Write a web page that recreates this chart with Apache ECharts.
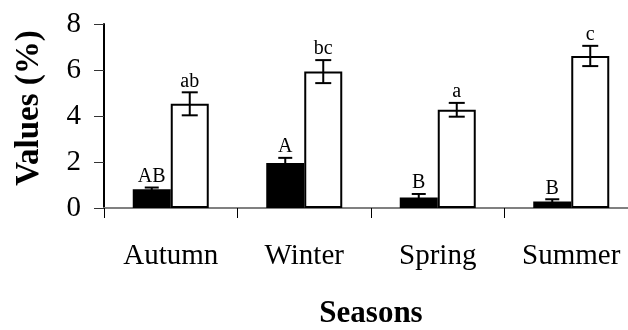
<!DOCTYPE html>
<html>
<head>
<meta charset="utf-8">
<script src="https://cdn.jsdelivr.net/npm/echarts@6/dist/echarts.min.js"></script>
<style>
html,body{margin:0;padding:0;background:#fff;}
#chart{width:628px;height:330px;}
</style>
</head>
<body>
<div id="chart"></div>
<script>
var categories = ['Autumn', 'Winter', 'Spring', 'Summer'];
var blackValues = [0.81, 1.96, 0.46, 0.28];
var blackErrors = [0.08, 0.22, 0.15, 0.10];
var blackLetters = ['AB', 'A', 'B', 'B'];
var whiteValues = [4.53, 5.93, 4.27, 6.61];
var whiteErrors = [0.50, 0.50, 0.30, 0.44];
var whiteLetters = ['ab', 'bc', 'a', 'c'];
var yTicks = [0, 2, 4, 6, 8];

var FONT = "'Liberation Serif', 'Times New Roman', serif";
var BAR_W = 38;

function errSeries(vals, errs, letters, side, capHalf) {
  return {
    type: 'custom',
    z: 5,
    data: vals.map(function (v, i) { return [i, v, errs[i]]; }),
    renderItem: function (params, api) {
      var i = api.value(0), v = api.value(1), e = api.value(2);
      var letter = letters[params.dataIndex];
      var hi = api.coord([i, v + e]);
      var lo = api.coord([i, v - e]);
      var x = hi[0] + side * BAR_W / 2;
      var st = { stroke: '#000', lineWidth: 2 };
      return {
        type: 'group',
        children: [
          { type: 'line', shape: { x1: x, y1: hi[1], x2: x, y2: lo[1] }, style: st },
          { type: 'line', shape: { x1: x - capHalf, y1: hi[1], x2: x + capHalf, y2: hi[1] }, style: st },
          { type: 'line', shape: { x1: x - capHalf, y1: lo[1], x2: x + capHalf, y2: lo[1] }, style: st },
          { type: 'text', style: { text: letter, x: x, y: hi[1] - 1, textAlign: 'center', textVerticalAlign: 'bottom', font: '20px ' + FONT, fill: '#000' } }
        ]
      };
    }
  };
}

var chart = echarts.init(document.getElementById('chart'), null, { renderer: 'canvas' });
chart.setOption({
  animation: false,
  backgroundColor: '#fff',
  grid: { left: 104, width: 534, top: 24, height: 184, containLabel: false, outerBoundsMode: 'none' },
  xAxis: {
    type: 'category',
    data: categories,
    name: 'Seasons',
    nameLocation: 'middle',
    nameGap: 90,
    nameTextStyle: { fontFamily: FONT, fontWeight: 'bold', fontSize: 31, color: '#000' },
    axisLine: { lineStyle: { color: '#808080', width: 2 } },
    axisTick: { show: true, length: 10, lineStyle: { color: '#000', width: 1 } },
    axisLabel: { fontFamily: FONT, fontSize: 29, color: '#000', margin: 34 }
  },
  yAxis: {
    type: 'value',
    min: 0, max: 8, interval: 2,
    name: 'Values (%)',
    nameLocation: 'middle',
    nameGap: 58,
    nameTextStyle: { fontFamily: FONT, fontWeight: 'bold', fontSize: 33, color: '#000', padding: [0, 0, 0, 16] },
    axisLine: { show: true, lineStyle: { color: '#000', width: 2 } },
    axisTick: { show: true, length: 10, lineStyle: { color: '#333', width: 1 } },
    axisLabel: { fontFamily: FONT, fontSize: 29, color: '#000', margin: 23,
      formatter: function (v) { return yTicks.indexOf(v) >= 0 ? String(v) : ''; } },
    splitLine: { show: false }
  },
  series: [
    { type: 'bar', data: blackValues, barWidth: BAR_W, barGap: '0%',
      itemStyle: { color: '#000', borderColor: '#000', borderWidth: 2 } },
    { type: 'bar', data: whiteValues, barWidth: BAR_W, barGap: '0%',
      itemStyle: { color: '#fff', borderColor: '#000', borderWidth: 2 } },
    errSeries(blackValues, blackErrors, blackLetters, -1, 7),
    errSeries(whiteValues, whiteErrors, whiteLetters, 1, 8)
  ]
});
</script>
</body>
</html>
